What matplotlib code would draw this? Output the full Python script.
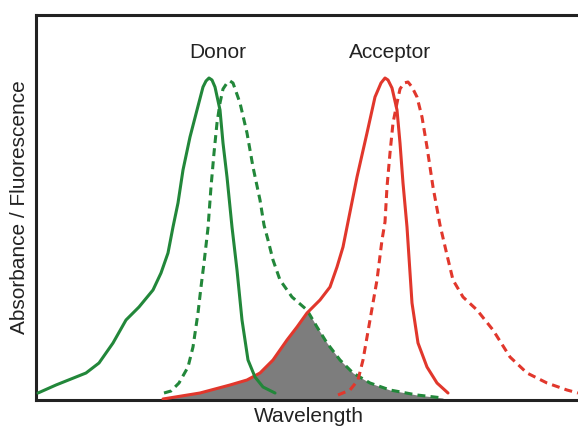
#!/usr/bin/env python3

import numpy as np
import matplotlib.pyplot as plt

# ----------------------------
# Spectra (arbitrary wavelength units, height above baseline)
# ----------------------------
donor_abs_x = [38, 56, 86, 99, 113, 126, 139, 153, 161, 168, 173, 178, 183, 190, 197, 203, 206,
               209, 212, 215, 220, 223, 227, 232, 237, 242, 248, 255, 263, 275]
donor_abs_y = [7, 15, 27, 37, 57, 80, 93, 110, 127, 147, 173, 197, 230, 263, 290, 313, 319,
               322, 320, 313, 290, 257, 223, 173, 130, 80, 40, 23, 13, 7]

donor_em_x = [164, 171, 179, 188, 193, 198, 201, 204, 208, 211, 214, 217, 220, 223, 227, 230,
              233, 240, 247, 253, 260, 264, 268, 273, 280, 292, 307, 317, 327, 340, 353, 370,
              390, 417, 443]
donor_em_y = [7, 9, 17, 33, 53, 87, 113, 137, 172, 213, 247, 277, 297, 311, 317, 319,
              317, 297, 267, 233, 200, 175, 160, 140, 120, 103, 90, 73, 57, 40, 27, 17,
              10, 5, 2]

acceptor_abs_x = [163, 200, 230, 247, 260, 273, 287, 297, 307, 320, 330, 337, 343, 347, 357,
                  367, 375, 381, 385, 388, 392, 397, 400, 403, 407, 412, 418, 427, 437, 448]
acceptor_abs_y = [1, 7, 15, 20, 27, 40, 60, 73, 87, 100, 113, 133, 153, 173, 223,
                  267, 303, 317, 322, 320, 312, 290, 257, 217, 173, 97, 57, 33, 17, 7]

acceptor_em_x = [338, 350, 358, 363, 370, 377, 382, 385, 387, 390, 393, 397, 400, 404, 408,
                 412, 417, 422, 427, 433, 440, 447, 453, 463, 477, 493, 510, 527, 547, 567,
                 578]
acceptor_em_y = [5, 10, 20, 40, 80, 120, 160, 178, 213, 247, 277, 297, 311, 317, 318,
                 313, 303, 283, 253, 213, 175, 145, 120, 103, 90, 70, 43, 27, 17, 10,
                 7]

green = "#22873a"
red = "#e1372c"
fill_gray = "#7d7d7d"

plt.rcParams["font.family"] = ["Liberation Sans", "DejaVu Sans"]


def main():
    fig = plt.figure(figsize=(5.78, 4.29), dpi=100)
    ax = fig.add_axes([36 / 578, 29 / 429, 546 / 578, 385 / 429])

    # overlap integral (donor emission x acceptor absorbance)
    grid = np.linspace(163, 443, 800)
    em = np.interp(grid, donor_em_x, donor_em_y)
    ab = np.interp(grid, acceptor_abs_x, acceptor_abs_y, right=0)
    ax.fill_between(grid, 0, np.minimum(em, ab), color=fill_gray, lw=0, zorder=1)

    lw = 2.2
    dash = (0, (2.6, 1.7))
    ax.plot(donor_em_x, donor_em_y, color=green, lw=lw, ls=dash, zorder=2)
    ax.plot(acceptor_em_x, acceptor_em_y, color=red, lw=lw, ls=dash, zorder=2)
    ax.plot(acceptor_abs_x, acceptor_abs_y, color=red, lw=lw, zorder=3,
            solid_joinstyle="round", solid_capstyle="round")
    ax.plot(donor_abs_x, donor_abs_y, color=green, lw=lw, zorder=4,
            solid_joinstyle="round", solid_capstyle="round")

    ax.text(218, 347, "Donor", ha="center", va="center", fontsize=15, color="#222222")
    ax.text(390, 347, "Acceptor", ha="center", va="center", fontsize=15, color="#222222")

    ax.set_xlim(36, 582)
    ax.set_ylim(0, 385)
    ax.set_xticks([])
    ax.set_yticks([])
    for side in ["left", "top", "bottom"]:
        ax.spines[side].set_linewidth(2.2)
        ax.spines[side].set_color("#222222")
    ax.spines["right"].set_visible(False)

    ax.set_xlabel("Wavelength", fontsize=15, labelpad=5, color="#222222")
    ax.set_ylabel("Absorbance / Fluorescence", fontsize=15, labelpad=5, color="#222222")

    fig.savefig("out.png", dpi=100)


if __name__ == "__main__":
    main()
